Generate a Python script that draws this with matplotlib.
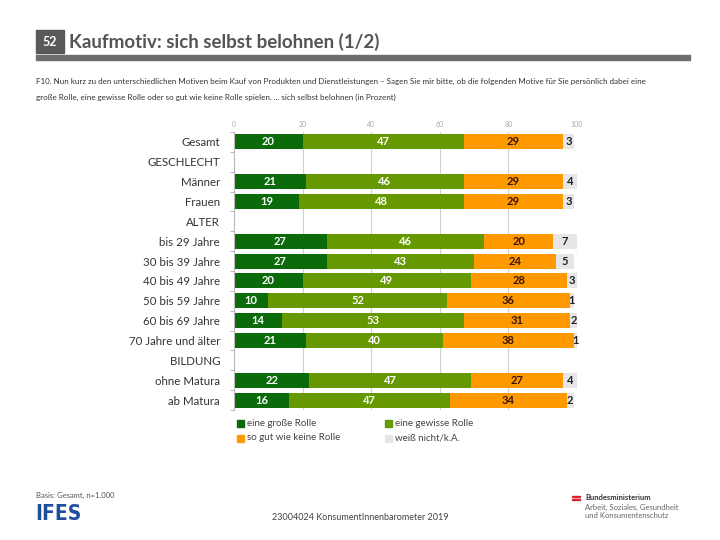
import matplotlib
matplotlib.use("Agg")
import matplotlib.pyplot as plt
from matplotlib.patches import Rectangle
import numpy as np

plt.rcParams['font.family'] = ['Lato', 'DejaVu Sans']

categories = ["Gesamt", "GESCHLECHT", "Männer", "Frauen", "ALTER", "bis 29 Jahre",
              "30 bis 39 Jahre", "40 bis 49 Jahre", "50 bis 59 Jahre", "60 bis 69 Jahre",
              "70 Jahre und älter", "BILDUNG", "ohne Matura", "ab Matura"]
grosse = [20, None, 21, 19, None, 27, 27, 20, 10, 14, 21, None, 22, 16]
gewisse = [47, None, 46, 48, None, 46, 43, 49, 52, 53, 40, None, 47, 47]
keine = [29, None, 29, 29, None, 20, 24, 28, 36, 31, 38, None, 27, 34]
weiss = [3, None, 4, 3, None, 7, 5, 3, 1, 2, 1, None, 4, 2]
series_names = ["eine große Rolle", "eine gewisse Rolle", "so gut wie keine Rolle", "weiß nicht/k.A."]
colors = ["#0B6B0B", "#669900", "#FF9900", "#E6E6E6"]
text_colors = ["white", "white", "#3A1500", "#222222"]
x_ticks = [0, 20, 40, 60, 80, 100]

W, H = 720, 540
fig = plt.figure(figsize=(7.2, 5.4), dpi=100)

def fx(px):
    return px / W

def fy(py):
    return 1 - py / H

ax = fig.add_axes([fx(234), fy(410), fx(577) - fx(234), fy(132) - fy(410)])
n = len(categories)
ypos = np.arange(n)
series = [grosse, gewisse, keine, weiss]
left = np.zeros(n)
for s, col, tcol in zip(series, colors, text_colors):
    for i, v in enumerate(s):
        if v is None:
            continue
        ax.barh(ypos[i], v, left=left[i], height=0.76, color=col, edgecolor='none', zorder=2)
        ax.text(left[i] + v / 2, ypos[i], str(v), ha='center', va='center',
                color=tcol, fontsize=8, fontweight='bold', zorder=3)
        left[i] += v

ax.set_xlim(0, 100)
ax.set_ylim(n - 0.5, -0.5)
ax.xaxis.tick_top()
ax.set_xticks(x_ticks)
ax.set_xticklabels([str(t) for t in x_ticks], fontsize=5, color="#AAAAAA")
ax.tick_params(axis='x', length=0, pad=3)
ax.grid(axis='x', color="#D0D0D0", linewidth=0.8, zorder=0)
ax.set_yticks(ypos)
ax.set_yticklabels(categories, fontsize=8.3, color="#333333")
ax.tick_params(axis='y', length=0, pad=10)
ax.set_yticks(np.arange(n + 1) - 0.5, minor=True)
ax.tick_params(axis='y', which='minor', length=3, color="#AAAAAA", direction='out')
for sp in ['top', 'right', 'bottom']:
    ax.spines[sp].set_visible(False)
ax.spines['left'].set_color("#BBBBBB")
ax.spines['left'].set_linewidth(0.8)

# Header
fig.patches.append(Rectangle((fx(36), fy(53)), fx(64) - fx(36), fy(30) - fy(53),
                             transform=fig.transFigure, color="#595959"))
fig.text(fx(50), fy(41.5), "52", ha='center', va='center', color='white', fontsize=9, fontweight='bold')
fig.text(fx(69), fy(42), "Kaufmotiv: sich selbst belohnen (1/2)", ha='left', va='center',
         color="#555555", fontsize=13.5, fontweight='bold')
fig.patches.append(Rectangle((fx(36), fy(60)), fx(690) - fx(36), fy(55) - fy(60),
                             transform=fig.transFigure, color="#6E6E6E"))

fig.text(fx(36), fy(81), "F10. Nun kurz zu den unterschiedlichen Motiven beim Kauf von Produkten und Dienstleistungen – Sagen Sie mir bitte, ob die folgenden Motive für Sie persönlich dabei eine",
         ha='left', va='center', fontsize=5.8, color="#333333")
fig.text(fx(36), fy(97), "große Rolle, eine gewisse Rolle oder so gut wie keine Rolle spielen. ... sich selbst belohnen (in Prozent)",
         ha='left', va='center', fontsize=5.8, color="#333333")

# Legend
leg_pos = [(237, 423), (385, 423), (237, 438), (385, 438)]
for (lx, ly), name, col in zip(leg_pos, series_names, colors):
    fig.patches.append(Rectangle((fx(lx), fy(ly + 3.5)), fx(7), 7 / H,
                                 transform=fig.transFigure, color=col))
    fig.text(fx(lx + 10), fy(ly), name, ha='left', va='center', fontsize=7, color="#444444")

# Footer
fig.text(fx(36), fy(495), "Basis: Gesamt, n=1.000", ha='left', va='center', fontsize=5.5, color="#555555")
fig.text(fx(35), fy(514), "IFES", ha='left', va='center', fontsize=15, fontweight='black',
         color="#1F4E9A", family=['DejaVu Sans'], stretch='condensed')
fig.text(fx(360), fy(517), "23004024 KonsumentInnenbarometer 2019", ha='center', va='center',
         fontsize=6.5, color="#444444")
fig.patches.append(Rectangle((fx(572), fy(500)), fx(8), 1.5 / H, transform=fig.transFigure, color="#E0202B"))
fig.patches.append(Rectangle((fx(572), fy(497)), fx(8), 1.5 / H, transform=fig.transFigure, color="#E0202B"))
fig.text(fx(585), fy(498), "Bundesministerium", ha='left', va='center', fontsize=5.5, color="#333333", fontweight='bold')
fig.text(fx(585), fy(507), "Arbeit, Soziales, Gesundheit", ha='left', va='center', fontsize=5.5, color="#666666")
fig.text(fx(585), fy(516), "und Konsumentenschutz", ha='left', va='center', fontsize=5.5, color="#666666")

fig.savefig("out.png", dpi=100)
